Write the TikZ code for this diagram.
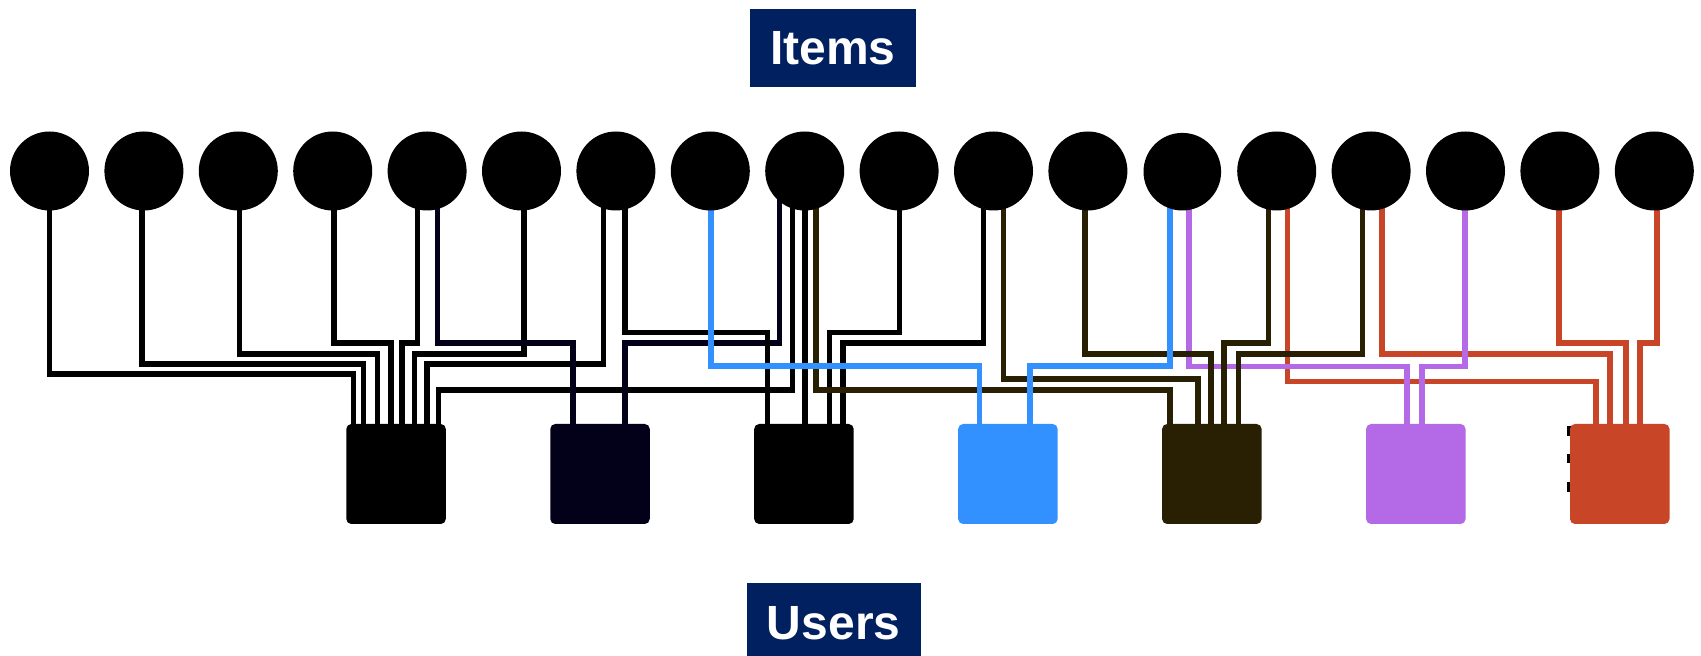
\documentclass[tikz,border=0pt]{standalone}
\usepackage{fontspec}
\setmainfont{Liberation Sans}
\pgfdeclarelayer{wires}
\pgfsetlayers{wires,main}
\definecolor{labelbg}{RGB}{0,32,96}
\definecolor{unavy}{RGB}{3,0,26}
\definecolor{ublue}{RGB}{51,145,255}
\definecolor{ubrown}{RGB}{41,31,2}
\definecolor{upurple}{RGB}{180,105,230}
\definecolor{ured}{RGB}{200,69,40}
% a wire leaves an item at x=#3, runs across at height #4 and drops into a user at x=#6
\newcommand\wire[6]{%
  \draw[wire,#1] (#2.center -| #3,0) |- (#6,#4) -- (#6,#4 |- #5.north);}
\tikzset{
  item/.style={circle,fill=black,inner sep=0pt,minimum size=39.5pt},
  user/.style={rectangle,rounded corners=2.5pt,inner sep=0pt,minimum width=49.75pt,minimum height=50pt},
  tag/.style={fill=labelbg,text=white,inner sep=0pt,font=\fontsize{24}{24}\selectfont\bfseries},
  wire/.style={line width=2.8pt,line join=miter,line cap=butt},
}
\begin{document}
\begin{tikzpicture}[x=0.5pt,y=-0.5pt]
\useasboundingbox (0,0) rectangle (1701,656);

% labels
\node[tag,minimum width=82.85pt,minimum height=38.7pt] (items) at (832.9,48) {Items};
\node[tag,minimum width=87pt,minimum height=40.3pt] (users) at (833.7,623) {Users};

% items
\foreach \i in {1,...,12,14,15,16,17,18}
  \node[item] (c\i) at ({49.5+94.4*(\i-1)},171) {};
\node[item,minimum size=38.8pt] (c13) at (1182.3,171.7) {};

% users
\node[user,fill=black]   (b1) at (396.05,474) {};
\node[user,fill=unavy]   (b2) at (600,474) {};
\node[user,fill=black]   (b3) at (803.95,474) {};
\node[user,fill=ublue]   (b4) at (1007.9,474) {};
\node[user,fill=ubrown]  (b5) at (1211.85,474) {};
\node[user,fill=upurple] (b6) at (1415.8,474) {};
\node[user,fill=ured]    (b7) at (1619.75,474) {};

\begin{pgfonlayer}{wires}
  % small marks on the left side of the last user
  \fill[black] (1566.5,426) rectangle (1574,436);
  \fill[black] (1566.5,454.3) rectangle (1574,463.3);
  \fill[black] (1566.5,482.3) rectangle (1574,491.7);

  % user 1
  \wire{black}{c1}{49.3}{374}{b1}{353.3}
  \wire{black}{c2}{141.8}{364}{b1}{363.3}
  \wire{black}{c3}{239.6}{354}{b1}{377.3}
  \wire{black}{c4}{334}{343.3}{b1}{391}
  \wire{black}{c5}{417.3}{343.3}{b1}{401.7}
  \wire{black}{c6}{524}{354}{b1}{414.3}
  \wire{black}{c7}{603.3}{364}{b1}{426.7}
  \wire{black}{c9}{792.3}{390}{b1}{438.3}
  % user 2
  \wire{unavy}{c5}{437.3}{343.3}{b2}{572.7}
  \wire{unavy}{c9}{779.3}{343.3}{b2}{625}
  % user 3
  \wire{black}{c7}{625}{332.7}{b3}{767.3}
  \wire{black}{c9}{805}{390}{b3}{805}
  \wire{black}{c10}{899.3}{332.7}{b3}{829.3}
  \wire{black}{c11}{983.3}{343.3}{b3}{842.7}
  % user 7
  \wire{ured}{c14}{1287.3}{381.7}{b7}{1595.7}
  \wire{ured}{c15}{1381.7}{354.3}{b7}{1610}
  \wire{ured}{c17}{1559}{343.3}{b7}{1625.7}
  \wire{ured}{c18}{1656.7}{343.3}{b7}{1640}
  % user 6
  \wire{upurple}{c13}{1189}{366.7}{b6}{1406.7}
  \wire{upurple}{c16}{1465}{366.7}{b6}{1421.7}
  % user 5
  \wire{ubrown}{c9}{815.7}{390}{b5}{1170}
  \wire{ubrown}{c11}{1003.3}{379}{b5}{1197.7}
  \wire{ubrown}{c12}{1085}{354.3}{b5}{1210.7}
  \wire{ubrown}{c14}{1268.3}{343.3}{b5}{1224}
  \wire{ubrown}{c15}{1362.3}{354.3}{b5}{1238.3}
  % user 4
  \wire{ublue}{c8}{710.7}{366}{b4}{979.3}
  \wire{ublue}{c13}{1170}{366}{b4}{1030}
\end{pgfonlayer}
\end{tikzpicture}
\end{document}
